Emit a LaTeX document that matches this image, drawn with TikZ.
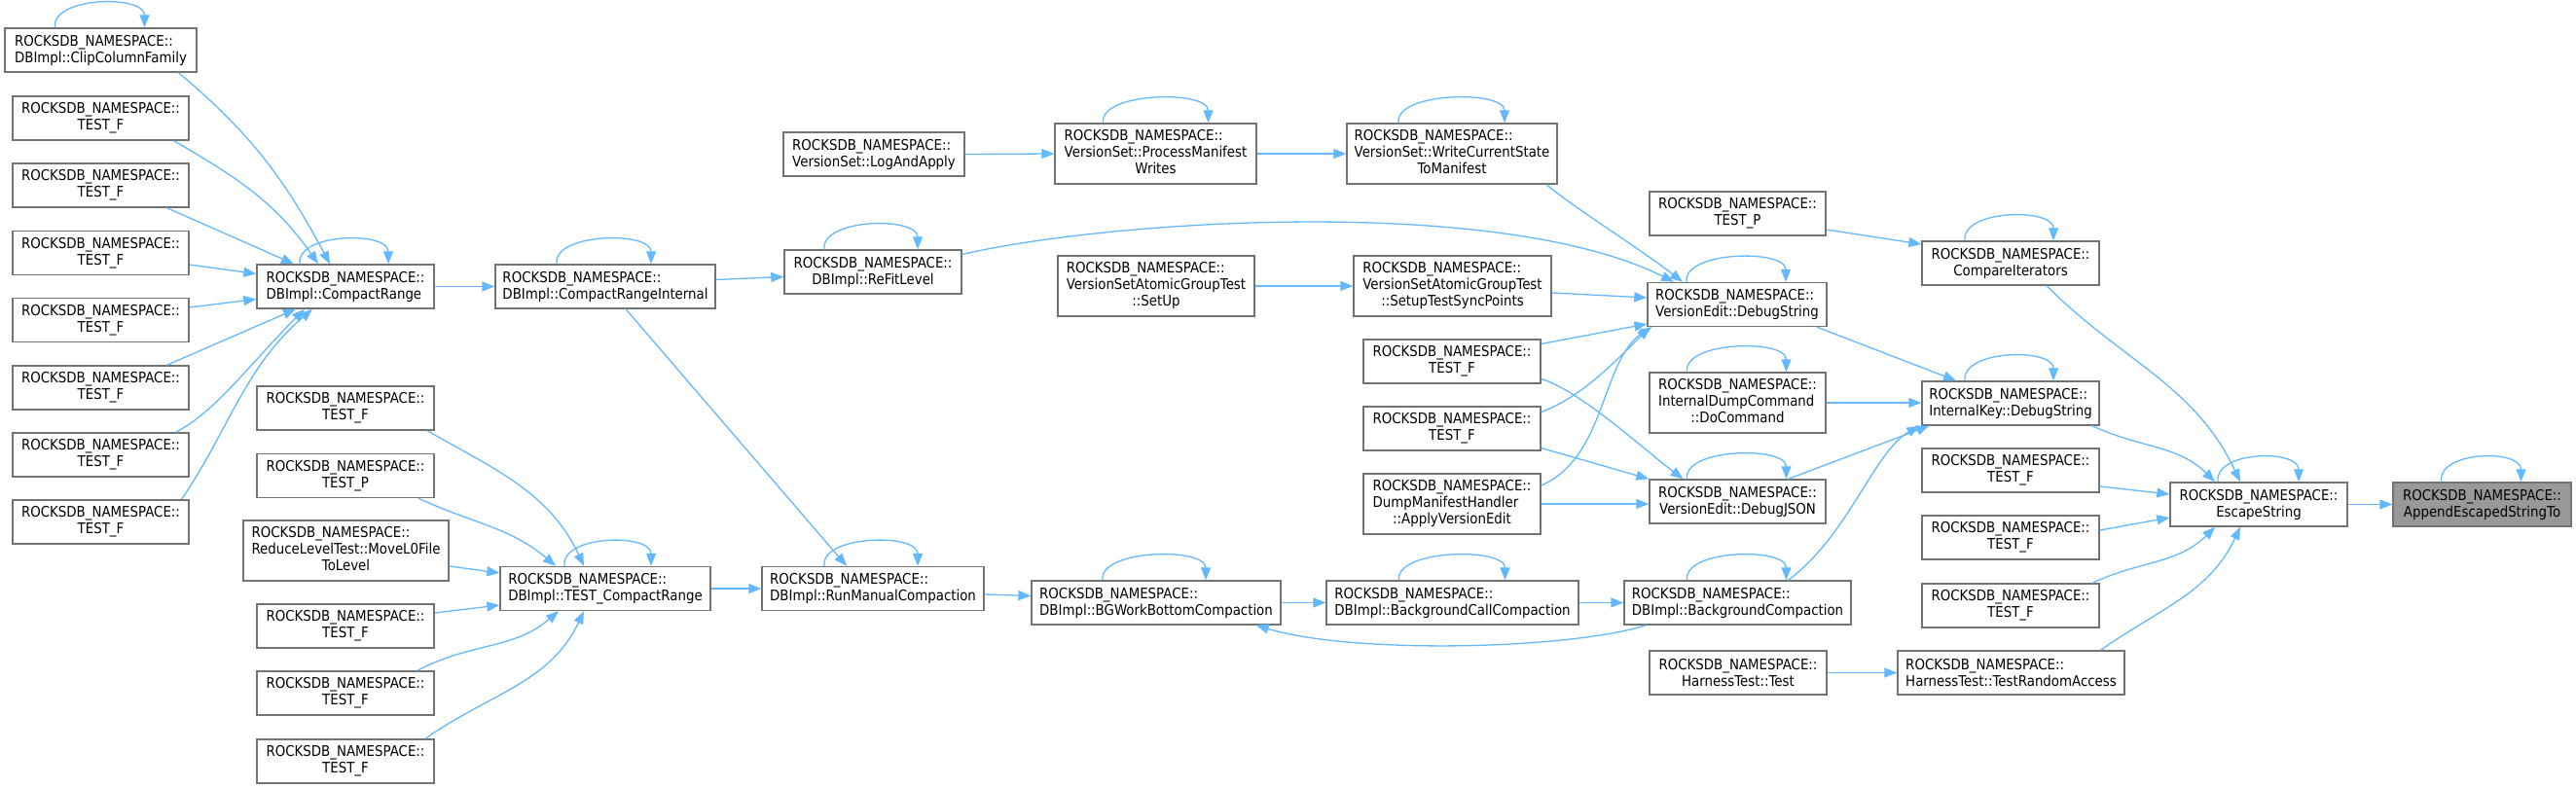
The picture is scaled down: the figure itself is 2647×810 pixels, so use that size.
\documentclass[tikz,border=0pt]{standalone}
\usepackage{fontspec}
\setmainfont{DejaVu Sans}[FakeStretch=0.89]
\usetikzlibrary{arrows.meta,calc}
\definecolor{edgeblue}{HTML}{63B8FF}
\definecolor{boxgray}{HTML}{737373}
\definecolor{rootfill}{HTML}{999999}
\newcommand\selfloop[3]{\draw[edge] ([xshift=#2pt]#1.north) .. controls +(-4pt,32pt) and +(0pt,34pt) .. ([xshift=#3pt]#1.north);}
\newcommand\tl[3]{\begin{tabular}{@{}l@{}}#1\\#2\\\multicolumn{1}{@{}c@{}}{#3}\end{tabular}}
\tikzset{
  box/.style={draw=boxgray, line width=1.4pt, fill=white, inner sep=0pt, minimum height=45pt,
    font=\fontsize{15}{17}\selectfont, text=black},
  tall/.style={minimum height=62pt},
  edge/.style={draw=edgeblue, line width=1.3pt, -{Triangle[length=13pt,width=10pt]}},
}
\begin{document}
\begin{tikzpicture}[x=1pt,y=-1pt]
\useasboundingbox (0,0) rectangle (2647,810);
% column 1
\node[box,align=left,minimum width=197pt] (clip) at (103.5,51.5) {ROCKSDB\_NAMESPACE::\\DBImpl::ClipColumnFamily};
\node[box,align=center,minimum width=181pt] (a1) at (103.5,121.5) {ROCKSDB\_NAMESPACE::\\TEST\_F};
\node[box,align=center,minimum width=181pt] (a2) at (103.5,190.5) {ROCKSDB\_NAMESPACE::\\TEST\_F};
\node[box,align=center,minimum width=181pt] (a3) at (103.5,260) {ROCKSDB\_NAMESPACE::\\TEST\_F};
\node[box,align=center,minimum width=181pt] (a4) at (103.5,329) {ROCKSDB\_NAMESPACE::\\TEST\_F};
\node[box,align=center,minimum width=181pt] (a5) at (103.5,398.5) {ROCKSDB\_NAMESPACE::\\TEST\_F};
\node[box,align=center,minimum width=181pt] (a6) at (103.5,467.5) {ROCKSDB\_NAMESPACE::\\TEST\_F};
\node[box,align=center,minimum width=181pt] (a7) at (103.5,536.5) {ROCKSDB\_NAMESPACE::\\TEST\_F};
% column 2
\node[box,align=left,minimum width=182pt] (cr) at (355,294.5) {ROCKSDB\_NAMESPACE::\\DBImpl::CompactRange};
\node[box,align=center,minimum width=182pt] (b1) at (355,419.5) {ROCKSDB\_NAMESPACE::\\TEST\_F};
\node[box,align=center,minimum width=182pt] (tp) at (355,489) {ROCKSDB\_NAMESPACE::\\TEST\_P};
\node[box,tall,minimum width=211pt] (mv) at (355.5,566) {\tl{ROCKSDB\_NAMESPACE::}{ReduceLevelTest::MoveL0File}{ToLevel}};
\node[box,align=center,minimum width=182pt] (b2) at (355,643.5) {ROCKSDB\_NAMESPACE::\\TEST\_F};
\node[box,align=center,minimum width=182pt] (b3) at (355,712.5) {ROCKSDB\_NAMESPACE::\\TEST\_F};
\node[box,align=center,minimum width=182pt] (b4) at (355,782.5) {ROCKSDB\_NAMESPACE::\\TEST\_F};
% column 3
\node[box,align=left,minimum width=226pt] (cri) at (622,294.5) {ROCKSDB\_NAMESPACE::\\DBImpl::CompactRangeInternal};
\node[box,align=left,minimum width=216pt] (tcr) at (622,605) {ROCKSDB\_NAMESPACE::\\DBImpl::TEST\_CompactRange};
% column 4
\node[box,align=left,minimum width=186pt] (laa) at (898,158.5) {ROCKSDB\_NAMESPACE::\\VersionSet::LogAndApply};
\node[box,align=center,minimum width=182pt] (rfl) at (897,279.5) {ROCKSDB\_NAMESPACE::\\DBImpl::ReFitLevel};
\node[box,align=left,minimum width=228pt] (rmc) at (897,605) {ROCKSDB\_NAMESPACE::\\DBImpl::RunManualCompaction};
% column 5
\node[box,tall,minimum width=207pt] (pmw) at (1187.5,158) {\tl{ROCKSDB\_NAMESPACE::}{VersionSet::ProcessManifest}{Writes}};
\node[box,tall,minimum width=202pt] (vsu) at (1188,294) {\tl{ROCKSDB\_NAMESPACE::}{VersionSetAtomicGroupTest}{::SetUp}};
\node[box,align=left,minimum width=256pt] (bgw) at (1188,619.5) {ROCKSDB\_NAMESPACE::\\DBImpl::BGWorkBottomCompaction};
% column 6
\node[box,tall,minimum width=216pt] (wcs) at (1492,158) {\tl{ROCKSDB\_NAMESPACE::}{VersionSet::WriteCurrentState}{ToManifest}};
\node[box,tall,minimum width=203pt] (stsp) at (1492.5,294) {\tl{ROCKSDB\_NAMESPACE::}{VersionSetAtomicGroupTest}{::SetupTestSyncPoints}};
\node[box,align=center,minimum width=182pt] (c1) at (1492,371.5) {ROCKSDB\_NAMESPACE::\\TEST\_F};
\node[box,align=center,minimum width=182pt] (c2) at (1492,440.5) {ROCKSDB\_NAMESPACE::\\TEST\_F};
\node[box,tall,minimum width=182pt] (dmh) at (1492,518) {\tl{ROCKSDB\_NAMESPACE::}{DumpManifestHandler}{::ApplyVersionEdit}};
\node[box,align=left,minimum width=259pt] (bcc) at (1492.5,619.5) {ROCKSDB\_NAMESPACE::\\DBImpl::BackgroundCallCompaction};
% column 7
\node[box,align=center,minimum width=181pt] (tpd) at (1785.5,219.5) {ROCKSDB\_NAMESPACE::\\TEST\_P};
\node[box,align=left,minimum width=184pt] (vds) at (1785,313) {ROCKSDB\_NAMESPACE::\\VersionEdit::DebugString};
\node[box,tall,minimum width=181pt] (dc) at (1785.5,414) {\tl{ROCKSDB\_NAMESPACE::}{InternalDumpCommand}{::DoCommand}};
\node[box,align=center,minimum width=181pt] (vdj) at (1785.5,515.5) {ROCKSDB\_NAMESPACE::\\VersionEdit::DebugJSON};
\node[box,align=left,minimum width=233pt] (bc) at (1785.5,619.5) {ROCKSDB\_NAMESPACE::\\DBImpl::BackgroundCompaction};
\node[box,align=center,minimum width=182pt] (ht) at (1786,691.5) {ROCKSDB\_NAMESPACE::\\HarnessTest::Test};
% column 8
\node[box,align=center,minimum width=182pt] (ci) at (2066,270.5) {ROCKSDB\_NAMESPACE::\\CompareIterators};
\node[box,align=left,minimum width=182pt] (ik) at (2066,414.5) {ROCKSDB\_NAMESPACE::\\InternalKey::DebugString};
\node[box,align=center,minimum width=182pt] (e1) at (2066,483.5) {ROCKSDB\_NAMESPACE::\\TEST\_F};
\node[box,align=center,minimum width=182pt] (e2) at (2066,552.5) {ROCKSDB\_NAMESPACE::\\TEST\_F};
\node[box,align=center,minimum width=182pt] (e3) at (2066,622.5) {ROCKSDB\_NAMESPACE::\\TEST\_F};
\node[box,align=left,minimum width=233pt] (tra) at (2066.5,691.5) {ROCKSDB\_NAMESPACE::\\HarnessTest::TestRandomAccess};
% column 9, 10
\node[box,align=center,minimum width=182pt] (es) at (2321,518.5) {ROCKSDB\_NAMESPACE::\\EscapeString};
\node[box,align=center,minimum width=183pt,fill=rootfill] (aes) at (2550.5,518.5) {ROCKSDB\_NAMESPACE::\\AppendEscapedStringTo};

% ---- edges ----
\selfloop{clip}{-47}{45}
\draw[edge] ([xshift=80pt]clip.south) .. controls +(75pt,-63pt) and +(-46pt,86pt) .. ([xshift=-16pt]cr.north);
\draw[edge] ([xshift=75pt]a1.south) .. controls +(66pt,-38pt) and +(-44pt,63pt) .. ([xshift=-28pt]cr.north);
\draw[edge] ([xshift=68pt]a2.south) -- ([xshift=-53pt]cr.north);
\draw[edge] ([yshift=-12pt]a3.east) -- ([yshift=13pt]cr.west);
\draw[edge] ([yshift=13pt]a4.east) -- ([yshift=-13pt]cr.west);
\draw[edge] ([xshift=68pt]a5.north) -- ([xshift=-51pt]cr.south);
\draw[edge] ([xshift=77pt]a6.north) .. controls +(40pt,20pt) and +(-55pt,-55pt) .. ([xshift=-42pt]cr.south);
\draw[edge] ([xshift=83pt]a7.north) .. controls +(48pt,70pt) and +(-70pt,-60pt) .. ([xshift=-34pt]cr.south);
\selfloop{cr}{-47}{44}
\draw[edge] (cr.east) -- (cri.west);
\selfloop{cri}{-50}{47}
\draw[edge] ([yshift=7pt]cri.east) -- ([yshift=-5pt]rfl.west);
\draw[edge] ([xshift=21pt]cri.south) -- ([xshift=-27pt]rmc.north);
\selfloop{rfl}{-50}{46}
\draw[edge] ([yshift=18pt]rfl.east) .. controls +(150pt,35pt) and +(-180pt,90pt) .. ([xshift=-65pt]vds.north);
\draw[edge] (laa.east) -- (pmw.west);
\selfloop{pmw}{-54}{54}
\draw[edge] (pmw.east) -- (wcs.west);
\selfloop{wcs}{-55}{54}
\draw[edge] ([xshift=97pt]wcs.south) .. controls +(30pt,-25pt) and +(-45pt,35pt) .. ([xshift=-56pt]vds.north);
\draw[edge] (vsu.east) -- (stsp.west);
\draw[edge] ([yshift=-7pt]stsp.east) -- ([yshift=7pt]vds.west);
\draw[edge] ([yshift=18pt]c1.east) -- ([yshift=-20pt]vds.west);
\draw[edge] ([yshift=17pt]c2.east) .. controls +(40pt,15pt) and +(-40pt,-40pt) .. ([xshift=3pt]vds.south west);
\draw[edge] ([yshift=19pt]dmh.east) .. controls +(67pt,29pt) and +(-52pt,-34pt) .. ([xshift=5pt]vds.south west);
\draw[edge] ([yshift=-18pt]c1.east) .. controls +(40pt,-12pt) and +(-40pt,30pt) .. ([xshift=-56pt]vdj.north);
\draw[edge] ([yshift=-20pt]c2.east) -- (vdj.north west);
\draw[edge] (dmh.east) -- (dmh.east -| vdj.west);
\selfloop{vds}{-52}{50}
\selfloop{dc}{-52}{50}
\selfloop{vdj}{-52}{50}
\draw[edge] ([xshift=82pt]vds.south) -- ([xshift=-56pt]ik.north);
\draw[edge] (dc.east) -- (dc.east -| ik.west);
\draw[edge] ([xshift=52pt]vdj.north) -- ([xshift=8pt]ik.south west);
\draw[edge] ([xshift=52pt]bc.north) .. controls +(62pt,46pt) and +(-47pt,-27pt) .. ([xshift=-2pt]ik.south west);
\draw[edge] ([yshift=-16.5pt]tpd.east) -- ([yshift=19.5pt]ci.west);
\selfloop{ci}{-47}{44}
\selfloop{ik}{-47}{44}
\draw[edge] ([xshift=37pt]ci.south) .. controls +(78pt,-78pt) and +(-47pt,100pt) .. ([xshift=-19pt]es.north);
\draw[edge] ([xshift=84pt]ik.south) .. controls +(49pt,-23pt) and +(-38pt,38pt) .. ([xshift=-45pt]es.north);
\draw[edge] ([yshift=-16.5pt]e1.east) -- ([yshift=10.5pt]es.west);
\draw[edge] ([yshift=7.5pt]e2.east) -- ([yshift=-13.5pt]es.west);
\draw[edge] ([xshift=84pt]e3.north) .. controls +(49pt,23pt) and +(-38pt,-38pt) .. ([xshift=-45pt]es.south);
\draw[edge] ([xshift=92pt]tra.north) .. controls +(61pt,43pt) and +(-32pt,-68pt) .. ([xshift=-19pt]es.south);
\selfloop{es}{-42}{41}
\draw[edge] (es.east) -- (aes.west);
\selfloop{aes}{-42}{40}
\draw[edge] (ht.east) -- (tra.west);
\draw[edge] ([xshift=84pt]b1.south) .. controls +(72pt,-41pt) and +(-35pt,75pt) .. ([xshift=-22pt]tcr.north);
\draw[edge] ([xshift=75pt]tp.south) .. controls +(56pt,-26pt) and +(-47pt,40pt) .. ([xshift=-51pt]tcr.north);
\draw[edge] ([yshift=-16pt]mv.east) -- ([yshift=16pt]tcr.west);
\draw[edge] ([yshift=13.5pt]b2.east) -- ([yshift=-17pt]tcr.west);
\draw[edge] ([xshift=74pt]b3.north) .. controls +(54pt,29pt) and +(-47pt,-40pt) .. ([xshift=-48pt]tcr.south);
\draw[edge] ([xshift=82pt]b4.north) .. controls +(67pt,47pt) and +(-35pt,-74pt) .. ([xshift=-22pt]tcr.south);
\selfloop{tcr}{-42}{47}
\draw[edge] (tcr.east) -- (rmc.west);
\selfloop{rmc}{-50}{46}
\draw[edge] ([yshift=-6pt]rmc.east) -- ([yshift=7pt]bgw.west);
\selfloop{bgw}{-55}{51}
\draw[edge] (bgw.east) -- (bcc.west);
\selfloop{bcc}{-55}{54}
\draw[edge] (bcc.east) -- (bc.west);
\selfloop{bc}{-52}{50}
\draw[edge] ([xshift=23pt]bc.south west) .. controls +(-80pt,-25pt) and +(100pt,-30pt) .. ([xshift=-26pt]bgw.south east);
\end{tikzpicture}
\end{document}
